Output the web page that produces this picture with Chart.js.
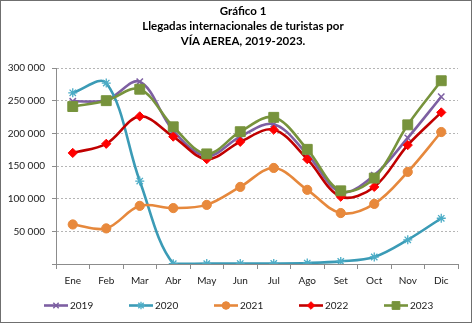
<!DOCTYPE html>
<html>
<head>
<meta charset="utf-8">
<script src="https://cdn.jsdelivr.net/npm/chart.js@4/dist/chart.umd.min.js"></script>
<style>
  html, body { margin: 0; padding: 0; background: #ffffff; }
  #wrap { width: 473px; height: 325px; position: relative; }
</style>
</head>
<body>
<div id="wrap"><canvas id="chart" width="473" height="325"></canvas></div>
<script>
// Monthly international air arrivals, 2019-2023
const months = ['Ene', 'Feb', 'Mar', 'Abr', 'May', 'Jun', 'Jul', 'Ago', 'Set', 'Oct', 'Nov', 'Dic'];
const seriesNames = ['2019', '2020', '2021', '2022', '2023'];

const arrivals2019 = [249000, 251000, 279000, 204000, 165000, 195000, 214000, 168000, 110000, 136000, 193000, 256000];
const arrivals2020 = [262000, 277000, 127000, 500, 600, 700, 800, 1500, 4000, 10700, 37000, 70000];
const arrivals2021 = [60500, 54500, 89000, 85600, 90500, 118000, 147000, 113500, 78000, 92000, 141000, 202000];
const arrivals2022 = [170000, 184000, 226000, 195000, 160500, 187000, 205500, 160500, 103000, 118000, 182000, 232000];
const arrivals2023 = [241000, 250000, 267500, 210000, 168500, 202500, 224500, 175500, 112000, 131500, 213000, 280500];

const yTicks = [0, 50000, 100000, 150000, 200000, 250000, 300000];

const titleLines = ['Gráfico 1', 'Llegadas internacionales de turistas por', 'VÍA AEREA, 2019-2023.'];

const FONT = 'Lato, "Liberation Sans", sans-serif';
const AXIS_GREY = '#8c8c8c';

function fmtThousands(v) {
  return String(v).replace(/\B(?=(\d{3})+(?!\d))/g, ' ');
}

const styles = [
  { line: '#7d5fa2', point: '#7d5fa2', shape: 'crossRot', r: 4.5, pw: 1.5 },
  { line: '#3b9bb6', point: '#4bacc6', shape: 'star',     r: 4.5, pw: 1.3 },
  { line: '#e6883c', point: '#e8893c', shape: 'circle',   r: 4.6, pw: 1 },
  { line: '#c00000', point: '#ff0000', shape: 'rectRot',  r: 4.6, pw: 1 },
  { line: '#77933c', point: '#77933c', shape: 'rect',     r: 7,   pw: 1 }
];

const seriesValues = [arrivals2019, arrivals2020, arrivals2021, arrivals2022, arrivals2023];

const datasets = seriesNames.map((name, i) => ({
  label: name,
  data: seriesValues[i],
  borderColor: styles[i].line,
  backgroundColor: styles[i].point,
  borderWidth: 2.6,
  pointStyle: styles[i].shape,
  pointRadius: styles[i].r,
  pointHoverRadius: styles[i].r,
  pointBorderColor: styles[i].point,
  pointBackgroundColor: styles[i].point,
  pointBorderWidth: styles[i].pw,
  tension: 0.35,
  fill: false,
  order: seriesNames.length - i   // later years drawn on top
}));

// White page with a thin grey frame
const frame = {
  id: 'frame',
  beforeDraw(chart) {
    const ctx = chart.ctx;
    ctx.save();
    ctx.fillStyle = '#ffffff';
    ctx.fillRect(0, 0, chart.width, chart.height);
    ctx.restore();
  },
  afterDraw(chart) {
    const ctx = chart.ctx;
    ctx.save();
    ctx.strokeStyle = '#6f6f6f';
    ctx.lineWidth = 1;
    ctx.strokeRect(0.5, 0.5, 471, 322);
    ctx.restore();
  }
};

// Centre the title block over the span 28..458
const titleSpan = {
  id: 'titleSpan',
  afterLayout(chart) {
    const t = chart.titleBlock;
    if (t) {
      t.left = 28;
      t.right = 458;
      t.width = t.right - t.left;
    }
  }
};

// Legend with a line sample and the series marker, starting just left of the y axis
const seriesKey = {
  id: 'seriesKey',
  afterDraw(chart) {
    const ctx = chart.ctx;
    const y = 305.5;
    const sample = 24, gap = 2, spacing = 85;
    ctx.save();
    ctx.setTransform(1, 0, 0, 1, 0, 0);
    ctx.font = '10px ' + FONT;
    let x = chart.chartArea.left - 12;
    chart.data.datasets.forEach((ds) => {
      ctx.strokeStyle = ds.borderColor;
      ctx.lineWidth = 2.6;
      ctx.setLineDash([]);
      ctx.beginPath();
      ctx.moveTo(x, y);
      ctx.lineTo(x + sample, y);
      ctx.stroke();
      ctx.fillStyle = ds.pointBackgroundColor;
      ctx.strokeStyle = ds.pointBorderColor;
      ctx.lineWidth = ds.pointBorderWidth;
      Chart.helpers.drawPoint(ctx, {
        pointStyle: ds.pointStyle,
        rotation: 0,
        radius: ds.pointStyle === 'rect' ? 5.5 : 3.8,
        borderWidth: ds.pointBorderWidth
      }, x + sample / 2, y);
      ctx.fillStyle = '#1a1a1a';
      ctx.textBaseline = 'middle';
      ctx.textAlign = 'left';
      ctx.fillText(ds.label, x + sample + gap, y + 0.5);
      x += spacing;
    });
    ctx.restore();
  }
};

new Chart(document.getElementById('chart'), {
  type: 'line',
  data: { labels: months, datasets },
  plugins: [frame, titleSpan, seriesKey],
  options: {
    responsive: false,
    animation: false,
    events: [],
    layout: { padding: { left: 0, right: 15, top: 0, bottom: 0 } },
    plugins: {
      legend: { display: false },
      tooltip: { enabled: false },
      title: {
        display: true,
        text: titleLines,
        color: '#000000',
        font: { family: FONT, size: 11.5, weight: 'bold', lineHeight: '15px' },
        padding: { top: 4, bottom: 19 }
      }
    },
    scales: {
      x: {
        type: 'category',
        offset: true,
        grid: {
          offset: true,
          drawOnChartArea: false,
          drawTicks: true,
          tickLength: 5,
          tickColor: AXIS_GREY,
          tickWidth: 1
        },
        border: { display: true, color: AXIS_GREY, width: 1 },
        ticks: {
          color: '#1a1a1a',
          font: { family: FONT, size: 10 },
          padding: 6,
          maxRotation: 0,
          autoSkip: false
        },
        afterFit(scale) { scale.height = 325 - 264; }
      },
      y: {
        min: 0,
        max: 300000,
        afterBuildTicks(scale) { scale.ticks = yTicks.map(v => ({ value: v })); },
        grid: {
          color: '#b5b5b5',
          lineWidth: 1,
          drawTicks: true,
          tickLength: 4,
          tickColor: AXIS_GREY,
          tickBorderDash: [],
          tickWidth: 1
        },
        border: { display: true, color: AXIS_GREY, width: 1, dash: [2, 2] },
        ticks: {
          color: '#1a1a1a',
          font: { family: FONT, size: 10 },
          padding: 7,
          callback: v => (v === 0 ? '' : fmtThousands(v))
        },
        afterFit(scale) { scale.width = 56; }
      }
    }
  }
});
</script>
</body>
</html>
